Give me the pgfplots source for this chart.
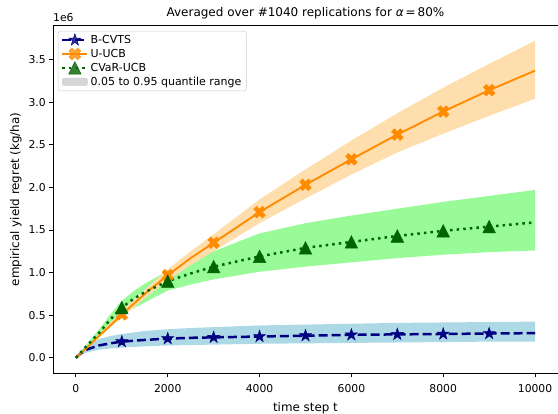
\documentclass[border=0pt]{standalone}
\usepackage{fontspec}
\setmainfont{DejaVu Sans}
\usepackage{pgfplots}
\pgfplotsset{compat=1.18}
\usepackage{pgfplotstable}
\usepgfplotslibrary{fillbetween}

\definecolor{navyc}{HTML}{000080}
\definecolor{lightbluec}{HTML}{ADD8E6}
\definecolor{darkorangec}{HTML}{FF8C00}
\definecolor{navajoc}{HTML}{FFDEAD}
\definecolor{darkgreenc}{HTML}{006400}
\definecolor{palegreenc}{HTML}{98FB98}
\definecolor{legendgray}{HTML}{CCCCCC}

\pgfdeclareplotmark{mystar}{%
  \pgfpathmoveto{\pgfpointpolar{90}{\pgfplotmarksize}}%
  \pgfpathlineto{\pgfpointpolar{126}{0.382\pgfplotmarksize}}%
  \pgfpathlineto{\pgfpointpolar{162}{\pgfplotmarksize}}%
  \pgfpathlineto{\pgfpointpolar{198}{0.382\pgfplotmarksize}}%
  \pgfpathlineto{\pgfpointpolar{234}{\pgfplotmarksize}}%
  \pgfpathlineto{\pgfpointpolar{270}{0.382\pgfplotmarksize}}%
  \pgfpathlineto{\pgfpointpolar{306}{\pgfplotmarksize}}%
  \pgfpathlineto{\pgfpointpolar{342}{0.382\pgfplotmarksize}}%
  \pgfpathlineto{\pgfpointpolar{18}{\pgfplotmarksize}}%
  \pgfpathlineto{\pgfpointpolar{54}{0.382\pgfplotmarksize}}%
  \pgfpathclose\pgfusepathqfillstroke}

\pgfdeclareplotmark{mytri}{%
  \pgfpathmoveto{\pgfpoint{0pt}{\pgfplotmarksize}}%
  \pgfpathlineto{\pgfpoint{-\pgfplotmarksize}{-\pgfplotmarksize}}%
  \pgfpathlineto{\pgfpoint{\pgfplotmarksize}{-\pgfplotmarksize}}%
  \pgfpathclose\pgfusepathqfillstroke}

\pgfdeclareplotmark{myX}{%
  \pgftransformrotate{45}%
  \pgfpathmoveto{\pgfpoint{-0.333\pgfplotmarksize}{-\pgfplotmarksize}}%
  \pgfpathlineto{\pgfpoint{0.333\pgfplotmarksize}{-\pgfplotmarksize}}%
  \pgfpathlineto{\pgfpoint{0.333\pgfplotmarksize}{-0.333\pgfplotmarksize}}%
  \pgfpathlineto{\pgfpoint{\pgfplotmarksize}{-0.333\pgfplotmarksize}}%
  \pgfpathlineto{\pgfpoint{\pgfplotmarksize}{0.333\pgfplotmarksize}}%
  \pgfpathlineto{\pgfpoint{0.333\pgfplotmarksize}{0.333\pgfplotmarksize}}%
  \pgfpathlineto{\pgfpoint{0.333\pgfplotmarksize}{\pgfplotmarksize}}%
  \pgfpathlineto{\pgfpoint{-0.333\pgfplotmarksize}{\pgfplotmarksize}}%
  \pgfpathlineto{\pgfpoint{-0.333\pgfplotmarksize}{0.333\pgfplotmarksize}}%
  \pgfpathlineto{\pgfpoint{-\pgfplotmarksize}{0.333\pgfplotmarksize}}%
  \pgfpathlineto{\pgfpoint{-\pgfplotmarksize}{-0.333\pgfplotmarksize}}%
  \pgfpathlineto{\pgfpoint{-0.333\pgfplotmarksize}{-0.333\pgfplotmarksize}}%
  \pgfpathclose\pgfusepathqfillstroke}

% values in units of 1e6 kg/ha
\pgfplotstableread{
t mean lo hi
0 0 0 0
100 0.05 0.035 0.075
250 0.10 0.065 0.15
500 0.145 0.095 0.22
750 0.17 0.11 0.255
1000 0.19 0.12 0.28
1500 0.21 0.135 0.315
2000 0.225 0.145 0.335
2500 0.235 0.15 0.35
3000 0.24 0.155 0.36
4000 0.25 0.165 0.38
5000 0.26 0.17 0.39
6000 0.27 0.175 0.40
7000 0.275 0.18 0.41
8000 0.28 0.185 0.415
9000 0.285 0.19 0.42
10000 0.29 0.19 0.425
}\bcvts

\pgfplotstableread{
t mean lo hi
0 0 0 0
100 0.05 0.045 0.055
250 0.125 0.115 0.135
500 0.255 0.235 0.275
750 0.38 0.355 0.41
1000 0.51 0.47 0.55
1500 0.75 0.70 0.80
2000 0.97 0.91 1.04
2500 1.17 1.09 1.25
3000 1.35 1.25 1.45
4000 1.71 1.58 1.86
5000 2.03 1.87 2.21
6000 2.33 2.15 2.55
7000 2.62 2.41 2.87
8000 2.89 2.63 3.17
9000 3.14 2.84 3.45
10000 3.37 3.04 3.72
}\uucb

\pgfplotstableread{
t mean lo hi
0 0 0 0
100 0.06 0.05 0.07
250 0.15 0.13 0.17
500 0.29 0.25 0.33
750 0.45 0.39 0.51
1000 0.59 0.50 0.67
1250 0.69 0.58 0.78
1500 0.77 0.65 0.87
2000 0.90 0.79 1.02
2500 0.99 0.86 1.14
3000 1.07 0.92 1.25
4000 1.19 1.01 1.46
5000 1.29 1.07 1.58
6000 1.36 1.12 1.67
7000 1.43 1.17 1.75
8000 1.49 1.21 1.83
9000 1.54 1.24 1.90
10000 1.59 1.26 1.97
}\cvar

\begin{document}
\begin{tikzpicture}
\begin{axis}[
  name=ax,
  scale only axis,
  width=505.5pt, height=349pt,
  xmin=-500, xmax=10500,
  ymin=-0.186, ymax=3.906,
  axis line style={line width=0.85pt},
  tick pos=left,
  tick align=outside,
  major tick length=3.7pt,
  every tick/.style={black, line width=0.85pt},
  xtick={0,2000,4000,6000,8000,10000},
  ytick={0,0.5,1,1.5,2,2.5,3,3.5},
  scaled x ticks=false,
  scaled y ticks=false,
  /pgf/number format/assume math mode=true,
  xticklabel style={/pgf/number format/1000 sep={}, font=\fontsize{10.8}{12}\selectfont, yshift=-4pt},
  yticklabel style={/pgf/number format/fixed, /pgf/number format/fixed zerofill, /pgf/number format/precision=1, font=\fontsize{10.8}{12}\selectfont},
  xlabel={time step t},
  ylabel={empirical yield regret (kg/ha)},
  label style={font=\fontsize{11.9}{13}\selectfont},
  xlabel style={yshift=-3pt},
  title={Averaged over \#1040 replications for \textit{α}\,=\,80\%},
  title style={font=\fontsize{12}{14}\selectfont, yshift=-4pt},
  legend style={at={(0,1)}, anchor=north west, xshift=5pt, yshift=-6pt,
    draw=legendgray, rounded corners=2pt, fill=white, fill opacity=0.8, text opacity=1,
    font=\fontsize{11}{12}\selectfont, row sep=0.3pt, inner xsep=3pt, inner ysep=2pt},
  legend cell align=left,
  legend image code/.code={\draw[mark indices={2}] plot coordinates {(0pt,0pt) (12.5pt,0pt) (25pt,0pt)};},
]
% bands
\addplot[name path=bh, draw=none, forget plot] table[x=t,y=hi]{\bcvts};
\addplot[name path=bl, draw=none, forget plot] table[x=t,y=lo]{\bcvts};
\addplot[lightbluec, draw=none, forget plot] fill between[of=bh and bl];
\addplot[name path=gh, draw=none, forget plot] table[x=t,y=hi]{\cvar};
\addplot[name path=gl, draw=none, forget plot] table[x=t,y=lo]{\cvar};
\addplot[palegreenc, draw=none, forget plot] fill between[of=gh and gl];
\addplot[name path=oh, draw=none, forget plot] table[x=t,y=hi]{\uucb};
\addplot[name path=ol, draw=none, forget plot] table[x=t,y=lo]{\uucb};
\addplot[navajoc, draw=none, forget plot] fill between[of=oh and ol];
% lines
\addplot[navyc, line width=2.5pt, dash pattern=on 9pt off 4pt, mark=mystar, mark size=6.3pt,
  mark options={solid, fill=navyc, line width=0.5pt}, mark indices={6,8,10,11,12,13,14,15,16}]
  table[x=t,y=mean]{\bcvts};
\addlegendentry{B-CVTS}
\addplot[darkorangec, line width=1.9pt, mark=myX, mark size=6.2pt,
  mark options={solid, fill=darkorangec, line width=0.5pt}, mark indices={6,8,10,11,12,13,14,15,16}]
  table[x=t,y=mean]{\uucb};
\addlegendentry{U-UCB}
\addplot[darkgreenc, line width=2.5pt, dash pattern=on 2.5pt off 4.1pt, mark=mytri, mark size=6.3pt,
  mark options={solid, fill=darkgreenc, line width=0.5pt}, mark indices={6,9,11,12,13,14,15,16,17}]
  table[x=t,y=mean]{\cvar};
\addlegendentry{CVaR-UCB}
\addlegendimage{legend image code/.code={\fill[legendgray] (0pt,-3.8pt) rectangle (25pt,3.8pt);}}
\addlegendentry{0.05 to 0.95 quantile range}
\end{axis}
\node[anchor=south west, inner sep=0pt, font=\fontsize{10.8}{12}\selectfont] at ([yshift=3pt]ax.north west) {1e6};
\pgfresetboundingbox
\path ([xshift=-53pt,yshift=-40pt]ax.south west) rectangle ([yshift=25pt]ax.north east);
\end{tikzpicture}
\end{document}
